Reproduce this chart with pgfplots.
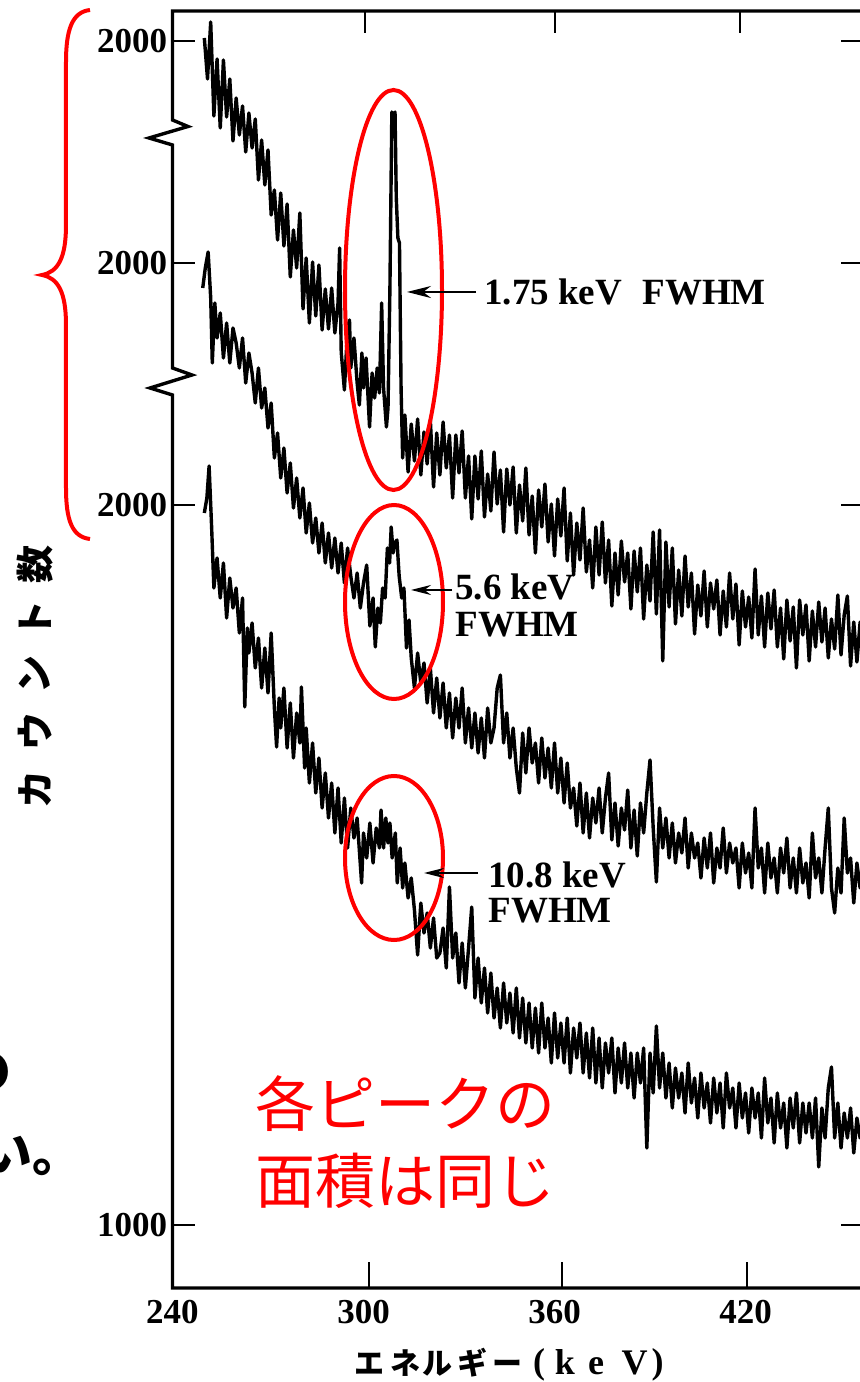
\documentclass[border=0pt]{standalone}
\usepackage{fontspec}
\setmainfont{Liberation Serif}
\newfontfamily\jp{Noto Sans CJK JP}
\usepackage{pgfplots}
\usepackage{pgfplotstable}
\pgfplotsset{compat=1.18}
\usetikzlibrary{arrows.meta}

% Three gamma spectra (energy in keV, plotted height of each offset trace)
% 1.75 keV FWHM detector
\pgfplotstableread{
E h
250 1250
251 1209
252 1266
253 1172
254 1229
255 1160
256 1228
257 1171
258 1209
259 1147
260 1190
261 1153
262 1182
263 1136
264 1175
265 1140
266 1169
267 1108
268 1148
269 1103
270 1138
271 1073
272 1098
273 1048
274 1095
275 1042
276 1084
277 1011
278 1058
279 1020
280 1075
281 979
282 1030
283 965
284 1026
285 972
286 1023
287 958
288 999
289 959
290 1000
291 955
292 985
292.5 1040
293 936
294 898
295 960
295.6 968
296 920
297 950
298 905
298.7 883
299.5 935
300 900
300.8 930
301.9 861
302.7 915
303.5 890
304.3 920
305 895
305.7 985
306.3 900
307.2 861
307.7 880
308.3 1000
308.9 1176
309.5 1168
309.9 1176
310.3 1090
310.8 1050
311.3 1045
311.8 900
312.3 830
313 873
314 816
315 864
316 827
317 869
318 813
319 856
320 824
321 868
322 801
323 855
324 813
325 866
326 820
327 853
328 790
329 853
330 815
331 857
332 790
333 832
334 769
335 832
336 789
337 837
338 771
339 814
340 777
341 836
342 784
343 818
344 756
345 819
346 783
347 821
348 755
349 803
350 767
351 820
352 753
353 792
354 735
355 798
356 761
357 804
358 746
359 784
360 732
361 789
362 752
363 800
364 727
365 775
366 713
367 765
368 728
369 780
370 716
371 748
372 700
373 761
374 713
375 766
376 705
377 748
378 682
379 735
380 693
381 747
382 706
383 735
384 679
385 737
386 696
387 740
388 669
389 723
390 687
391 756
392 674
393 758
394 627
395 746
396 681
397 740
398 664
399 718
400 672
401 732
402 681
403 715
404 654
405 703
406 672
407 717
408 661
409 705
410 679
411 708
412 653
413 697
414 661
415 715
416 669
417 704
418 643
419 697
420 661
421 691
422 650
423 719
424 653
425 692
426 641
427 695
428 659
429 698
430 641
431 680
432 629
433 688
434 647
435 681
436 620
437 688
438 653
439 683
440 627
441 677
442 641
443 686
444 646
445 680
446 630
447 669
448 639
449 693
450 633
451 673
452 692
453 622
454 666
455 626
456 666
457 640
}\specA

% 5.6 keV FWHM detector
\pgfplotstableread{
E h
249.5 1000
250.3 1020
251.2 1036
252 990
252.5 925
253.3 985
254 950
255 975
256 930
257 965
258 925
259 960
260 945
261 920
262 950
263 905
264 935
265 915
266 885
267 920
268 880
269 900
270 860
271 885
272 830
273 855
274 810
275 840
276 795
277 825
278 780
279 810
280 770
281 800
282 755
283 785
284 745
285 770
286 735
287 765
288 725
289 755
290 720
291 750
292 715
293 745
294 705
295 740
296 712
297 690
298 715
299 680
300 705
301 723
302 662
303 690
303.7 641
304.5 680
305.3 665
306 700
306.8 690
307.5 740
308.2 725
308.7 761
309.3 735
309.8 745
310.5 748
311.2 712
312 690
312.7 700
313.5 640
314.3 668
315 630
316 600
317 635
318 605
319 625
320 585
321 620
322 575
323 610
324 570
325 605
326 560
327 595
328 550
329 590
330 560
331 600
332 545
333 580
334 540
335 575
336 535
337 570
338 530
339 580
340 545
341 560
342 600
343 613
344 545
345 575
346 530
347 560
348 520
349 495
350 555
351 515
352 560
353 525
354 545
355 505
356 550
357 510
358 540
359 500
360 545
361 495
362 530
363 485
364 525
365 480
366 500
367 462
368 505
369 455
370 495
371 450
372 490
373 465
374 500
375 455
376 490
377 515
378 448
379 485
380 442
381 480
382 458
383 498
384 440
385 478
386 432
387 485
388 455
389 495
390 528
391 460
392 406
393 480
394 440
395 470
396 430
397 465
398 425
399 455
400 435
401 470
402 420
403 455
404 430
405 445
406 410
407 450
408 420
409 455
410 405
411 440
412 420
413 460
414 415
415 445
416 425
417 440
418 400
419 445
420 415
421 435
422 400
423 480
424 420
425 440
426 395
427 445
428 410
429 430
430 395
431 440
432 415
433 450
434 400
435 430
436 395
437 440
438 405
439 425
440 390
441 455
442 410
443 430
444 395
445 440
446 480
447 400
448 375
449 420
450 395
451 470
452 415
453 430
454 385
455 425
456 400
457 420
}\specB

% 10.8 keV FWHM detector
\pgfplotstableread{
E h
250 775
250.8 790
251.5 822
252.3 760
253 700
254 730
255 690
256 725
257 670
258 710
259 680
260 700
261 655
262 690
262.7 581
263.5 660
264 635
265 665
266 620
267 650
268 600
269 640
270 595
271 655
272 580
272.7 541
273.5 590
274 560
275 600
276 540
277 585
278 530
279 575
280 545
280.5 601
281.5 520
282 560
283 505
284 545
285 495
286 530
287 480
288 515
289 470
290 505
291 455
292 500
293 445
294 490
295 440
296 480
297 450
298 470
299.4 405
300 455
301 430
302 465
303 425
304 460
305 440
305.5 478
306.3 440
307 470
307.7 445
308.3 465
309 430
310 455
310.6 405
311.5 440
312.3 400
313 425
314 390
315 410
316 378
317 333
318 385
319 355
320 375
321 340
322 370
323 330
324 335
325 360
326 320
327 401
328 330
329 355
330 305
331 345
332 300
333 340
334 381
335 290
336 330
337 285
338 320
339 275
340 315
341 270
342 300
343 260
344 305
345 265
346 295
347 255
348 300
349 250
350 290
351 245
352 285
353 240
354 280
355 235
356 285
357 240
358 270
359 225
360 275
361 230
362 265
363 225
364 270
365 215
366 260
367 230
368 265
369 215
370 255
371 210
372 260
373 205
374 250
375 200
376 245
377 215
378 250
379 195
380 240
381 205
382 245
383 200
384 235
385 190
386 235
387 205
388 240
389 140
390 235
391 195
392 262
393 200
394 235
395 190
396 225
397 180
398 220
399 190
400 215
401 175
402 225
403 185
404 210
405 170
406 215
407 180
408 205
409 165
410 210
411 175
412 205
413 160
414 215
415 180
416 200
417 160
418 205
419 170
420 195
421 155
422 200
423 170
424 195
425 150
426 210
427 165
428 190
429 145
430 195
431 160
432 185
433 140
434 190
435 160
436 195
437 145
438 185
439 155
440 185
441 150
442 190
443 121
444 180
445 150
446 200
447 221
448 150
449 185
450 140
451 175
452 150
453 180
454 135
455 170
456 150
457 165
}\specC

\begin{document}
\begin{tikzpicture}
\begin{axis}[
  at={(0pt,0pt)}, anchor=south west,
  scale only axis,
  width=345.4pt, height=638.5pt,
  xmin=240, xmax=457, ymin=0, ymax=1277,
  axis line style={draw=none},
  xtick={240,300,360,420},
  xticklabels={240,300,360,420},
  xtick style={draw=none},
  ytick={63,783,1025,1247},
  yticklabels={1000,2000,2000,2000},
  tick align=inside,
  major tick length=11pt,
  ytick style={black, line width=1.4pt},
  /pgf/number format/assume math mode=true,
  ticklabel style={font=\bfseries\fontsize{17.5}{20}\selectfont},
  xticklabel style={inner sep=0pt, yshift=-6pt},
  yticklabel style={inner sep=0pt, xshift=-2.5pt},
]
\addplot[black, line width=1.7pt, line join=round] table[x=E, y=h] {\specA};
\addplot[black, line width=1.7pt, line join=round] table[x=E, y=h] {\specB};
\addplot[black, line width=1.7pt, line join=round] table[x=E, y=h] {\specC};
\end{axis}

\begin{scope}[x=0.5pt, y=-0.5pt, shift={(-86.25pt,644pt)}]
  % frame with the two axis breaks on the left
  \draw[line width=1.7pt, line join=miter]
    (875,11) -- (172.5,11) -- (172.5,120) -- (188,126.5) -- (149,138) -- (172.5,145)
    -- (172.5,368) -- (192,375) -- (150,388) -- (172.5,395) -- (172.5,1288) -- (875,1288);
  % energy ticks on the top and bottom edges
  \foreach \xx in {365,555,740} \draw[line width=1.4pt] (\xx,11) -- (\xx,33);
  \foreach \xx in {369,562,747} \draw[line width=1.4pt] (\xx,1288) -- (\xx,1262);

  % brace grouping the three broken scales
  \draw[red, line width=2pt]
    (90,10) .. controls (72,12) and (66,30) .. (66,62) -- (66,225)
    .. controls (66,258) and (58,272) .. (42,275)
    .. controls (58,278) and (66,292) .. (66,325) -- (66,488)
    .. controls (66,520) and (72,537) .. (90,539);

  % peak markers
  \draw[red, line width=2pt] (393.5,290) ellipse [x radius=24.25pt, y radius=100pt];
  \draw[red, line width=2pt] (394,602) ellipse [x radius=24.5pt, y radius=48.5pt];
  \draw[red, line width=2pt] (394,858) ellipse [x radius=24.5pt, y radius=41pt];

  % resolution labels
  \draw[line width=1.1pt, -{Stealth[length=12pt, width=6pt]}] (476,292) -- (407,292);
  \draw[line width=1.1pt, -{Stealth[length=10pt, width=5pt]}] (452,590) -- (411,590);
  \draw[line width=1.1pt, -{Stealth[length=10pt, width=5pt]}] (478,873) -- (424,873);
  \begin{scope}[every node/.style={anchor=base west, inner sep=0pt,
      font=\bfseries\fontsize{18.5}{20}\selectfont}]
    \node at (484,305) {1.75 keV\hspace{0.55em}FWHM};
    \node at (455,600) {5.6 keV};
    \node at (455,637) {FWHM};
    \node at (488,888) {10.8 keV};
    \node at (488,923) {FWHM};
  \end{scope}

  % vertical axis title
  \foreach \c/\yy in {数/565, ト/620, ン/675, ウ/732, カ/790}
    \node[rotate=90, inner sep=0pt, font=\jp\bfseries\fontsize{19}{19}\selectfont] at (35,\yy) {\c};

  % horizontal axis title
  \foreach \c/\xx in {エ/369, ネ/405, ル/437.5, ギ/472.5, ー/507.5}
    \node[anchor=base, inner sep=0pt, font=\jp\bfseries\fontsize{15}{15}\selectfont] at (\xx,1374) {\c};
  \begin{scope}[every node/.style={anchor=base, inner sep=0pt,
      font=\bfseries\fontsize{18}{20}\selectfont}]
    \node at (539,1373) {(};
    \node at (565,1374) {k};
    \node at (596,1374) {e};
    \node at (634.5,1374) {V};
    \node at (657.5,1373) {)};
  \end{scope}

  % note on the peak areas
  \node[anchor=base west, inner sep=0pt, text=red, font=\jp\fontsize{30}{30}\selectfont]
    at (255,1127) {各ピークの};
  \node[anchor=base west, inner sep=0pt, text=red, font=\jp\fontsize{30}{30}\selectfont]
    at (255,1204) {面積は同じ};

  % running text of the neighbouring column
  \node[anchor=base east, inner sep=0pt, font=\jp\bfseries\fontsize{25}{25}\selectfont]
    at (12,1090) {の};
  \node[anchor=base east, inner sep=0pt, font=\jp\bfseries\fontsize{25}{25}\selectfont]
    at (83,1172) {い。};

  \pgfresetboundingbox
  \path[use as bounding box] (0,0) rectangle (859,1382);
\end{scope}
\end{tikzpicture}
\end{document}
